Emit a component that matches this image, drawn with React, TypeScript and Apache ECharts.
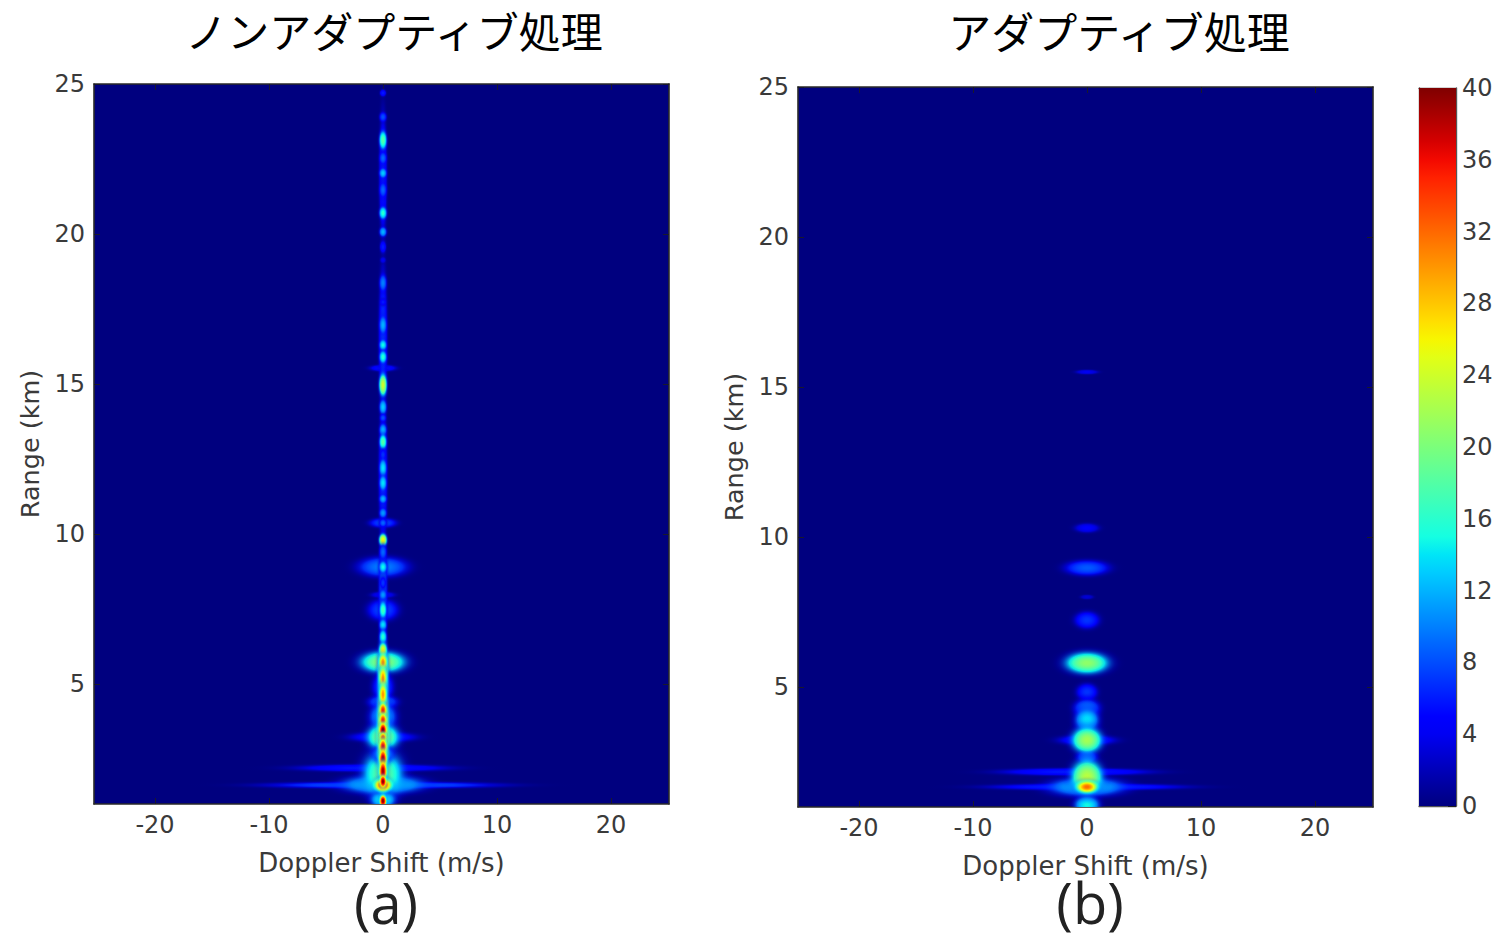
import React, { useEffect, useRef } from "react";
import * as echarts from "echarts";

const titleA = "ノンアダプティブ処理";
const titleB = "アダプティブ処理";
const dopplerTicks = [-20, -10, 0, 10, 20];
const rangeTicks = [5, 10, 15, 20, 25];
const colorTicks = [0, 4, 8, 12, 16, 20, 24, 28, 32, 36, 40];
const colorExtent = [0, 40];

// every blob: [doppler m/s, range km, peak level, half width m/s, half height km]
const haloA = [
  [0, 1.63, 9, 11.7, 0.14],
  [-0.9, 2.2, 6, 8, 0.16],
  [0, 1.65, 15, 4.2, 0.4],
  [0, 3.23, 7, 3.4, 0.22],
  [0, 2.0, 19, 2.1, 1.0],
  [0, 1.15, 15, 1.3, 0.35],
  [0, 8.9, 10, 2.6, 0.42],
  [0, 7.47, 8, 1.6, 0.45],
  [0, 7.97, 4.5, 1.3, 0.14],
  [0, 10.37, 8, 1.4, 0.2],
  [0, 15.53, 6, 1.4, 0.14],
  [0, 5.73, 21, 2.4, 0.46],
  [0, 4.9, 8, 1.1, 0.6],
  [0, 4.4, 10, 1.5, 0.28],
  [0, 3.9, 12, 1.4, 0.6],
  [0, 3.23, 21, 1.7, 0.55],
  [0, 2.65, 12, 1.1, 0.36],
  [0, 22, 6, 0.42, 2.6],
  [0, 16.5, 7, 0.45, 3],
  [0, 12, 7, 0.45, 2.8],
  [0, 8, 9, 0.45, 2.5],
  [0, 3.5, 30, 0.6, 2.6],
  [0, 5.4, 26, 0.55, 1.3],
];

const spikeA = [
  [0, 24.7, 6, 0.42, 0.16],
  [0, 23.9, 8, 0.48, 0.22],
  [0, 23.13, 18, 0.5, 0.42],
  [0, 22.53, 9, 0.48, 0.28],
  [0, 22.03, 13, 0.48, 0.22],
  [0, 21.47, 9, 0.48, 0.34],
  [0, 20.7, 16, 0.5, 0.28],
  [0, 20.07, 12, 0.48, 0.22],
  [0, 19.57, 6, 0.42, 0.28],
  [0, 19.13, 4, 0.38, 0.14],
  [0, 18.37, 10, 0.48, 0.38],
  [0, 17.73, 6, 0.42, 0.16],
  [0, 16.97, 12, 0.48, 0.4],
  [0, 16.3, 15, 0.48, 0.24],
  [0, 15.9, 16, 0.48, 0.28],
  [0, 14.97, 24, 0.52, 0.5],
  [0, 14.23, 13, 0.48, 0.34],
  [0, 13.87, 8, 0.42, 0.18],
  [0, 13.47, 12, 0.48, 0.28],
  [0, 13.07, 18, 0.48, 0.34],
  [0, 12.63, 7, 0.42, 0.28],
  [0, 12.2, 14, 0.48, 0.4],
  [0, 11.7, 14, 0.48, 0.34],
  [0, 11.17, 12, 0.48, 0.2],
  [0, 10.7, 11, 0.48, 0.22],
  [0, 10.37, 9, 0.48, 0.18],
  [0, 9.8, 26, 0.52, 0.28],
  [0, 9.4, 9, 0.48, 0.34],
  [0, 8.9, 15, 0.52, 0.26],
  [0, 8.37, 7, 0.42, 0.28],
  [0, 7.97, 11, 0.48, 0.24],
  [0, 7.47, 17, 0.48, 0.38],
  [0, 6.97, 14, 0.48, 0.26],
  [0, 6.57, 16, 0.48, 0.32],
  [0, 6.13, 26, 0.5, 0.32],
  [0, 5.73, 30, 0.55, 0.38],
  [0, 5.2, 30, 0.5, 0.5],
  [0, 4.65, 30, 0.5, 0.5],
  [0, 4.13, 35, 0.5, 0.32],
  [0, 3.8, 35, 0.5, 0.3],
  [0, 3.47, 40, 0.5, 0.32],
  [0, 3.2, 34, 0.5, 0.26],
  [0, 2.9, 37, 0.5, 0.38],
  [0, 2.5, 39, 0.5, 0.45],
  [0, 2.1, 39, 0.5, 0.45],
  [0, 1.63, 34, 1.15, 0.3],
  [0, 1.75, 40, 0.45, 0.28],
  [0, 1.1, 40, 0.45, 0.26],
];

const blobB = [
  [0, 1.67, 7, 10, 0.14],
  [-1, 2.17, 6, 8, 0.16],
  [0, 1.67, 13, 4, 0.4],
  [0, 3.23, 6.5, 3, 0.22],
  [0, 1.07, 15, 1.3, 0.38],
  [0, 15.5, 4, 1.2, 0.1],
  [0, 10.3, 4.5, 1.3, 0.2],
  [0, 8.97, 8.5, 2.3, 0.32],
  [0, 8.0, 3, 0.7, 0.1],
  [0, 7.23, 7, 1.3, 0.36],
  [0, 5.8, 21, 2.3, 0.46],
  [0, 4.83, 7, 1.1, 0.36],
  [0, 4.3, 10, 1.35, 0.38],
  [0, 3.9, 14, 1.25, 0.5],
  [0, 2.67, 10, 1.05, 0.28],
  [0, 3.23, 22, 1.6, 0.55],
  [0, 2.0, 23, 1.65, 0.72],
  [0, 1.67, 32, 1.1, 0.26],
];

const FONT = "'DejaVu Sans'";
const INK = "#3a3a3a";

function jet(v: number): [number, number, number] {
  const t = Math.max(0, Math.min(1, v / 40));
  const ramp = (pts: number[][]) => {
    for (let i = 1; i < pts.length; i++) {
      if (t <= pts[i][0]) {
        const [a, b] = [pts[i - 1], pts[i]];
        return a[1] + ((b[1] - a[1]) * (t - a[0])) / (b[0] - a[0] || 1);
      }
    }
    return pts[pts.length - 1][1];
  };
  return [
    Math.round(255 * ramp([[0, 0], [0.35, 0], [0.66, 1], [0.89, 1], [1, 0.5]])),
    Math.round(255 * ramp([[0, 0], [0.125, 0], [0.375, 1], [0.64, 1], [0.91, 0], [1, 0]])),
    Math.round(255 * ramp([[0, 0.5], [0.11, 1], [0.34, 1], [0.65, 0], [1, 0]])),
  ];
}

function blobFill(peak: number) {
  const stops = [];
  for (let i = 0; i <= 12; i++) {
    const t = i / 12;
    const share = Math.exp(-2 * t * t) * (1 - t * t * t * t);
    const [r, g, b] = jet(peak * share);
    const alpha = Math.min(1, share * share * 2);
    stops.push({ offset: t, color: `rgba(${r},${g},${b},${alpha.toFixed(3)})` });
  }
  return new echarts.graphic.RadialGradient(0.5, 0.5, 0.5, stops);
}

const renderBlob = (reachX: number, reachY: number) => (_p: any, api: any) => {
  const c = api.coord([api.value(0), api.value(1)]);
  const s = api.size([api.value(3), api.value(4)]);
  return {
    type: "ellipse",
    shape: { cx: c[0], cy: c[1], rx: s[0] * reachX, ry: s[1] * reachY },
    style: { fill: blobFill(api.value(2)) },
  };
};

const renderColorbar = (_p: any, api: any) => {
  const a = api.coord([0, api.value(0)]);
  const b = api.coord([1, api.value(1)]);
  const stops = [];
  for (let i = 0; i <= 40; i++) {
    const [r, g, bl] = jet(40 - i);
    stops.push({ offset: i / 40, color: `rgb(${r},${g},${bl})` });
  }
  return {
    type: "rect",
    shape: { x: a[0], y: b[1], width: b[0] - a[0], height: a[1] - b[1] },
    style: { fill: new echarts.graphic.LinearGradient(0, 0, 0, 1, stops) },
  };
};

const frameLine = { show: true, onZero: false, lineStyle: { color: "#2a2a2a", width: 1.6 } };
const tickIn = (customValues: number[]) => ({
  show: true,
  inside: true,
  length: 6,
  customValues,
  lineStyle: { color: "#1a1a2a", width: 1 },
});

function panelAxes(gridIndex: number) {
  const xBase = {
    type: "value" as const,
    gridIndex,
    min: -25.35,
    max: 25.09,
    splitLine: { show: false },
    axisLine: frameLine,
    axisTick: tickIn(dopplerTicks),
  };
  const yBase = {
    type: "value" as const,
    gridIndex,
    min: 1,
    max: 25,
    splitLine: { show: false },
    axisLine: frameLine,
    axisTick: tickIn(rangeTicks),
  };
  return {
    x: [
      {
        ...xBase,
        position: "bottom",
        name: "Doppler Shift (m/s)",
        nameLocation: "middle",
        nameGap: 46,
        nameTextStyle: { fontFamily: FONT, fontSize: 26, color: INK },
        axisLabel: { customValues: dopplerTicks, margin: 9, fontFamily: FONT, fontSize: 24, color: INK },
      },
      { ...xBase, position: "top", axisLabel: { show: false } },
    ],
    y: [
      {
        ...yBase,
        position: "left",
        name: "Range (km)",
        nameLocation: "middle",
        nameGap: 51,
        nameTextStyle: { fontFamily: FONT, fontSize: 25.5, color: INK },
        axisLabel: { customValues: rangeTicks, margin: 9, fontFamily: FONT, fontSize: 24, color: INK },
      },
      { ...yBase, position: "right", axisLabel: { show: false } },
    ],
  };
}

export default function App() {
  const ref = useRef<HTMLDivElement>(null);
  useEffect(() => {
    document.body.style.margin = "0";
    const chart = echarts.init(ref.current!, undefined, { renderer: "svg" });
    const a = panelAxes(0);
    const b = panelAxes(1);
    const blobSeries = (xi: number, yi: number, data: number[][], reachX: number, reachY: number) => ({
      type: "custom" as const,
      coordinateSystem: "cartesian2d",
      xAxisIndex: xi,
      yAxisIndex: yi,
      clip: true,
      silent: true,
      renderItem: renderBlob(reachX, reachY),
      encode: { x: 0, y: 1 },
      data,
    });
    const headline = (text: string, left: number, top: number, fontSize: number, family: string, color: string) => ({
      text,
      left,
      top,
      textAlign: "center" as const,
      padding: 0,
      textStyle: { fontSize, fontFamily: family, fontWeight: "normal" as const, color },
    });
    chart.setOption({
      animation: false,
      backgroundColor: "#ffffff",
      title: [
        headline(titleA, 394, 8, 42, "'Noto Sans CJK JP'", "#000000"),
        headline(titleB, 1119, 8, 43, "'Noto Sans CJK JP'", "#000000"),
        headline("(a)", 386, 874, 56, "'Open Sans'", "#222222"),
        headline("(b)", 1090, 874, 56, "'Open Sans'", "#222222"),
      ],
      grid: [
        { left: 94, top: 84, width: 575, height: 720, containLabel: false, show: true, backgroundColor: "#00007f", borderWidth: 0 },
        { left: 798, top: 87, width: 575, height: 720, containLabel: false, show: true, backgroundColor: "#00007f", borderWidth: 0 },
        { left: 1419, top: 88, width: 37, height: 718, containLabel: false },
      ],
      xAxis: [
        ...a.x,
        ...b.x,
        { type: "value", gridIndex: 2, min: 0, max: 1, axisLabel: { show: false }, axisTick: { show: false }, splitLine: { show: false }, axisLine: { show: true, onZero: false, lineStyle: { color: "#555555", width: 1.4 } } },
        { type: "value", gridIndex: 2, min: 0, max: 1, position: "top", axisLabel: { show: false }, axisTick: { show: false }, splitLine: { show: false }, axisLine: { show: true, onZero: false, lineStyle: { color: "#555555", width: 1.4 } } },
      ],
      yAxis: [
        ...a.y,
        ...b.y,
        {
          type: "value",
          gridIndex: 2,
          position: "right",
          min: 0,
          max: 40,
          interval: 4,
          splitLine: { show: false },
          axisLine: { show: true, onZero: false, lineStyle: { color: "#555555", width: 1.4 } },
          axisTick: { show: true, inside: true, length: 8, lineStyle: { color: "#222222", width: 1 } },
          axisLabel: { customValues: colorTicks, margin: 6, fontFamily: FONT, fontSize: 24, color: INK },
        },
        {
          type: "value",
          gridIndex: 2,
          position: "left",
          min: 0,
          max: 40,
          axisLabel: { show: false },
          axisTick: { show: false },
          splitLine: { show: false },
          axisLine: { show: true, onZero: false, lineStyle: { color: "#555555", width: 1.4 } },
        },
      ],
      series: [
        blobSeries(0, 0, haloA, 1.6, 1.5),
        blobSeries(0, 0, spikeA, 1.25, 1.4),
        blobSeries(2, 2, blobB, 1.6, 1.5),
        {
          type: "custom",
          coordinateSystem: "cartesian2d",
          xAxisIndex: 4,
          yAxisIndex: 4,
          z: 1,
          silent: true,
          renderItem: renderColorbar,
          encode: { y: [0, 1] },
          data: [colorExtent],
        },
      ],
    });
    return () => chart.dispose();
  }, []);
  return <div ref={ref} style={{ position: "fixed", left: 0, top: 0, width: 1501, height: 935 }} />;
}
